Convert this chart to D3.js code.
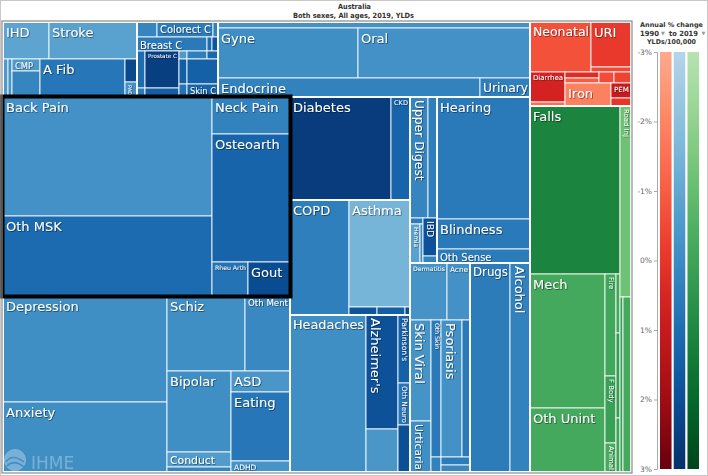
<!DOCTYPE html>
<html><head><meta charset="utf-8">
<script src="https://cdn.jsdelivr.net/npm/d3@7"></script>
<style>
html,body{margin:0;padding:0;background:#fff;}
svg{display:block;font-family:"DejaVu Sans",Verdana,sans-serif;}
</style></head><body>
<svg id="chart" width="708" height="476"></svg>
<script>
// ---- data (YLDs in relative units; annual % change of YLD rate) ----
const titleLines = ["Australia", "Both sexes, All ages, 2019, YLDs"];
const legendTicks = [-3, -2, -1, 0, 1, 2, 3];

const causes = [
  "IHD","Stroke","Rheu HD","Endocarditis","CMP","Oth CVD","A Fib","HTN HD","PAD",
  "Lung C","Colorect C","Uterine C","Breast C","Leukemia","Pancreas C","Stomach C","Kidney C","Prostate C","Bladder C","Lymphoma","Thyroid C","Oth Neo","Brain C","Liver C","Oth Malig","Skin C",
  "Hemog","Gyne","Oral","Endocrine","Urinary",
  "Back Pain","Oth MSK","Neck Pain","Osteoarth","Rheu Arth","Gout",
  "Depression","Anxiety","Schiz","Oth Ment","Bipolar","Conduct","Intel Disab","ASD","Eating","ADHD",
  "Diabetes","CKD","COPD","Asthma","ILD","Oth Resp","Pneumocon",
  "Headaches","Alzheimer's","Epilepsy","Parkinson's","Oth Neuro","MS",
  "Upper Digest","Oth Digest","Gallbladder","Hernia","Pancreatitis","IBD","Cirrhosis",
  "Hearing","Blindness","Oth Sense",
  "Dermatitis","Acne","Skin Viral","Urticaria","Oth Skin","Psoriasis","Pruritus","Alopecia","Fungal Skin","Scabies",
  "Drugs","Alcohol",
  "Neonatal","URI","Oth Infect","Diarrhea","Intest Inf","LRI","STIs","Oth Nutr","HIV","Iron","PEM","Mat Disord",
  "Falls","Mech","Oth Unint","Fire","F Body","Animal","Drowning","Poisoning","Nat Disaster","Road Inj","Oth Transport","Self-harm"
];
const ylds = [
  1702,3256,190,152,336,728,3230,276,180,
  300,840,75,980,70,84,296,72,1258,306,64,160,88,200,104,775,403,
  1872,7000,8600,4978,950,
  24871,16720,2886,9984,1224,1428,
  17384,11480,5850,3375,5184,960,320,1239,4071,649,
  10403,1957,6785,6527,224,224,40,
  11932,3648,1376,816,504,564,
  2178,1089,78,390,117,532,98,
  11346,2790,1302,
  2109,1311,2121,1071,1370,2877,1096,150,232,203,
  8360,4180,
  3050,1800,200,1050,140,204,170,165,187,1058,300,160,
  15120,10050,4800,1122,737,319,236,340,216,2101,525,1400
];
const pctChange = [
  -0.9,-0.8,-0.5,-0.3,-0.5,0.2,0.7,2.2,-0.2,
  0.2,0.5,0.3,0.6,1.0,1.8,1.0,0.5,2.5,1.5,-0.5,0.4,1.2,1.5,0.8,1.4,1.3,
  -0.2,-0.1,-0.2,0.3,0.4,
  -0.2,1.1,0.3,1.3,0.8,2.1,
  -0.1,-0.1,-0.1,0.1,-0.1,-0.6,0.2,-0.4,0.7,-0.3,
  2.6,1.3,0.4,-1.5,1.8,1.5,2.0,
  -0.1,1.9,-0.4,1.4,0.7,2.0,
  0.2,0.4,0.5,-0.8,0.0,1.9,0.3,
  0.6,0.6,0.5,
  -0.3,-0.2,-0.3,-0.1,0.6,-0.2,0.6,0.3,0.5,0.1,
  0.5,0.3,
  -0.7,-0.1,-0.5,0.6,-1.5,0.3,-1.0,-0.6,-0.4,-1.9,1.0,0.0,
  1.1,-0.2,-0.2,-0.1,0.1,-0.3,-0.1,0.2,0.0,-1.2,0.1,-0.2
];
const unlabeled = ["Rheu HD","Endocarditis","Oth CVD","HTN HD","Lung C","Uterine C","Leukemia","Pancreas C",
  "Stomach C","Kidney C","Bladder C","Lymphoma","Thyroid C","Oth Neo","Brain C","Liver C","Oth Malig","Hemog",
  "Intel Disab","ILD","Oth Resp","Pneumocon","Epilepsy","MS","Oth Digest","Gallbladder","Pancreatitis","Cirrhosis",
  "Pruritus","Alopecia","Fungal Skin","Scabies","Oth Infect","Intest Inf","LRI","STIs","Oth Nutr","HIV","Mat Disord",
  "Drowning","Poisoning","Nat Disaster","Oth Transport","Self-harm"];

// ---- arrangement of the cause tree (rows = stacked, cols = side by side) ----
const R = (...c) => ({dir: "rows", children: c});
const C = (...c) => ({dir: "cols", children: c});
const G = (name, node, family) => Object.assign(node, {name, family});

const layout = C(
  G("Non-communicable", R(
    C(G("Cardiovascular", R(C("IHD","Stroke"), C("Rheu HD","Endocarditis", R("CMP","Oth CVD"), "A Fib", R("HTN HD","PAD")))),
      G("Neoplasms", R(C("Lung C","Colorect C","Uterine C"), C("Breast C","Leukemia","Pancreas C"),
        C(R("Stomach C","Kidney C"), R("Prostate C","Bladder C"),
          R(C("Lymphoma","Thyroid C","Oth Neo"), C(R("Brain C","Liver C"), R("Oth Malig","Skin C")))))),
      G("Other NCD", R("Hemog", C("Gyne","Oral"), C("Endocrine","Urinary")))),
    C(R(G("MSK", C(R("Back Pain","Oth MSK"), R("Neck Pain","Osteoarth", C("Rheu Arth","Gout")))),
        G("Mental", C(R("Depression","Anxiety"), R(C("Schiz","Oth Ment"), C(R("Bipolar","Conduct","Intel Disab"), R("ASD","Eating","ADHD")))))),
      C(R(G("Diabetes & CKD", C("Diabetes","CKD")),
          G("Chronic Resp", C("COPD", R("Asthma", C("ILD","Oth Resp","Pneumocon")))),
          G("Neuro", C("Headaches", R("Alzheimer's","Epilepsy"), R("Parkinson's","Oth Neuro","MS")))),
        R(C(G("Digestive", R(C("Upper Digest","Oth Digest"), C(R("Gallbladder", C("Hernia","Pancreatitis")), R("IBD","Cirrhosis")))),
            G("Sense", R("Hearing","Blindness","Oth Sense"))),
          C(G("Skin", R(C("Dermatitis","Acne"), C(R("Skin Viral","Urticaria"), R(C("Oth Skin","Psoriasis","Pruritus"), C("Alopecia", R("Fungal Skin","Scabies")))))),
            G("Substance", C("Drugs","Alcohol"))))))
  ), "ncd"),
  R(G("Communicable", R(C("Neonatal", R("URI","Oth Infect")),
        C(R("Diarrhea","Intest Inf"), R(C(R("LRI","STIs"),"Oth Nutr","HIV"), C("Iron", R("PEM","Mat Disord"))))), "comm"),
    G("Injuries", C(R("Falls", C(R("Mech","Oth Unint"), R("Fire","F Body","Animal"), R("Drowning","Poisoning","Nat Disaster"))),
        R("Road Inj", C("Oth Transport","Self-harm"))), "inj"))
);

function build(n) {
  if (typeof n === "string") {
    const i = causes.indexOf(n);
    return {name: n, value: ylds[i], change: pctChange[i]};
  }
  return {name: n.name, dir: n.dir, family: n.family, children: n.children.map(build)};
}

const svg = d3.select("#chart");
const W = 708, H = 476;
const TM = {x: 3, y: 22, w: 628, h: 450};

const interps = {ncd: d3.interpolateBlues, comm: d3.interpolateReds, inj: d3.interpolateGreens};
const tScale = d3.scaleLinear().domain([-3, 3]).range([0.3, 1]).clamp(true);
const colorOf = (fam, c) => interps[fam](tScale(c));

// defs
const defs = svg.append("defs");
const f = defs.append("filter").attr("id", "ts").attr("x", "-20%").attr("y", "-20%").attr("width", "140%").attr("height", "140%");
f.append("feDropShadow").attr("dx", 0.7).attr("dy", 0.7).attr("stdDeviation", 0.5)
  .attr("flood-color", "#000").attr("flood-opacity", 0.6);

// page border
svg.append("rect").attr("x", 0.5).attr("y", 0.5).attr("width", W - 1).attr("height", H - 1)
  .attr("fill", "none").attr("stroke", "#c8c8c8");

// helper for bold header texts fitted to a width
function hdr(sel, txt, x, y, len, anchor, fs) {
  return sel.append("text").attr("x", x).attr("y", y).attr("text-anchor", anchor || "start")
    .attr("font-size", fs || 7.2).attr("font-weight", "bold").attr("fill", "#333")
    .attr("textLength", len).attr("lengthAdjust", "spacingAndGlyphs").text(txt);
}

// title
const tg = svg.append("g");
hdr(tg, titleLines[0], 354.5, 9, 33, "middle");
hdr(tg, titleLines[1], 353.5, 17.5, 121, "middle");

// treemap
const root = d3.hierarchy(build(layout)).sum(d => d.children ? 0 : d.value);
d3.treemap().size([TM.w, TM.h]).round(false)
  .tile((node, x0, y0, x1, y1) => (node.data.dir === "rows" ? d3.treemapSlice : d3.treemapDice)(node, x0, y0, x1, y1))(root);

const g = svg.append("g").attr("transform", `translate(${TM.x},${TM.y})`);
const leaves = root.leaves();
leaves.forEach(l => { l.fam = l.ancestors().find(a => a.data.family).data.family; });

g.selectAll("rect.leaf").data(leaves).join("rect").attr("class", "leaf")
  .attr("x", d => d.x0).attr("y", d => d.y0)
  .attr("width", d => Math.max(0, d.x1 - d.x0)).attr("height", d => Math.max(0, d.y1 - d.y0))
  .attr("fill", d => colorOf(d.fam, d.data.change))
  .attr("stroke", "#fff").attr("stroke-opacity", 0.85).attr("stroke-width", 1);

// group outlines
const groups = root.descendants().filter(d => d.children && d.data.name && d.depth > 0);
g.selectAll("rect.grp").data(groups).join("rect").attr("class", "grp")
  .attr("x", d => d.x0).attr("y", d => d.y0)
  .attr("width", d => d.x1 - d.x0).attr("height", d => d.y1 - d.y0)
  .attr("fill", "none").attr("stroke", "#fff").attr("stroke-width", 1.6);

// labels
const hide = new Set(unlabeled);
const lab = g.append("g").attr("filter", "url(#ts)");
leaves.filter(d => !hide.has(d.data.name)).forEach(d => {
  const w = d.x1 - d.x0, h = d.y1 - d.y0;
  const t = lab.append("text").attr("fill", "#fff").attr("font-size", 10).text(d.data.name);
  const L = t.node().getComputedTextLength();
  const fsH = Math.min(13, (w - 5) / L * 10, (h - 2) / 1.2);
  const fsV = Math.min(13, (h - 5) / L * 10, (w - 2) / 1.3);
  const rot = fsH < 5.3 && fsV > fsH;
  const fs = rot ? fsV : fsH;
  if (fs < 3.5) { t.remove(); return; }
  t.attr("font-size", fs.toFixed(2));
  if (rot) {
    t.attr("transform", `translate(${d.x0 + 2 + 0.25 * fs},${d.y0 + 3}) rotate(90)`);
  } else {
    t.attr("x", d.x0 + 3).attr("y", d.y0 + fs + 1.5);
  }
});

// MSK highlight
const msk = root.descendants().find(d => d.data.name === "MSK");
g.append("rect").attr("x", msk.x0 - 0.5).attr("y", msk.y0 - 0.5)
  .attr("width", msk.x1 - msk.x0 + 1).attr("height", msk.y1 - msk.y0 + 1)
  .attr("fill", "none").attr("stroke", "#000").attr("stroke-width", 4);

// treemap frame
svg.append("rect").attr("x", TM.x - 1).attr("y", TM.y - 1).attr("width", TM.w + 2).attr("height", TM.h + 2)
  .attr("fill", "none").attr("stroke", "#8a8a8a").attr("stroke-width", 1.2);

// IHME watermark
const wm = svg.append("g").attr("opacity", 0.35);
wm.append("circle").attr("cx", 15).attr("cy", 460).attr("r", 10.5).attr("fill", "#e8f0f8").attr("stroke", "#fff");
wm.append("path").attr("d", "M6,462 C10,456 16,456 24,462 M7,466 C12,461 18,462 24,467").attr("fill", "none").attr("stroke", "#4a8cc0").attr("stroke-width", 1.5);
wm.append("text").attr("x", 31).attr("y", 469).attr("font-size", 17).attr("fill", "#e8f0f8").text("IHME");

// legend
const lg = svg.append("g");
hdr(lg, "Annual % change", 640, 27, 63, "start", 6.5);
hdr(lg, "1990", 640, 35.5, 19);
lg.append("text").attr("x", 661).attr("y", 35).attr("font-size", 5).attr("fill", "#999").text("▼");
hdr(lg, "to 2019", 669, 35.5, 29);
lg.append("text").attr("x", 701.5).attr("y", 35).attr("font-size", 5).attr("fill", "#999").text("▼");
hdr(lg, "YLDs/100,000", 647, 43.5, 49, "start", 6.6);

const yL = d3.scaleLinear().domain([-3, 3]).range([52, 469]);
const famOrder = ["comm", "ncd", "inj"];
const xb = d3.scaleBand().domain(famOrder).range([660, 699]).paddingInner(0.16);
famOrder.forEach(fam => {
  const gr = defs.append("linearGradient").attr("id", "lg-" + fam).attr("x1", 0).attr("y1", 0).attr("x2", 0).attr("y2", 1);
  d3.range(-3, 3.01, 0.5).forEach(c => gr.append("stop").attr("offset", (c + 3) / 6).attr("stop-color", colorOf(fam, c)));
});
lg.selectAll("rect.bar").data(famOrder).join("rect").attr("class", "bar")
  .attr("x", d => xb(d)).attr("y", yL(-3)).attr("width", xb.bandwidth()).attr("height", yL(3) - yL(-3))
  .attr("fill", d => `url(#lg-${d})`);

const ax = lg.append("g").attr("transform", "translate(657,0)")
  .call(d3.axisLeft(yL).tickValues(legendTicks).tickFormat(d => d + "%").tickSize(3).tickPadding(2));
ax.select(".domain").attr("stroke", "#aaa");
ax.selectAll(".tick line").attr("stroke", "#aaa");
ax.selectAll(".tick text").attr("fill", "#666").attr("font-size", 7.5).attr("font-family", "DejaVu Sans, sans-serif");
</script>
</body></html>
